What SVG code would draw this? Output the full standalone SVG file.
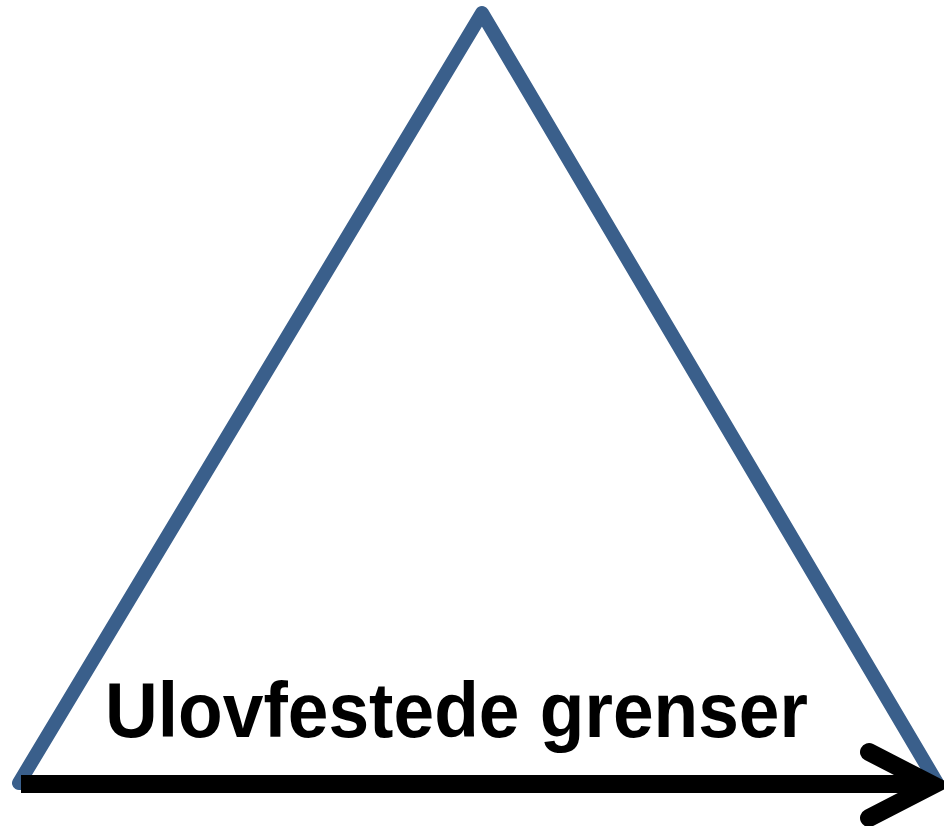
<svg xmlns="http://www.w3.org/2000/svg" width="944" height="826" viewBox="0 0 944 826">
<style>
.tri{fill:none;stroke:#3A5F8B;stroke-width:14;stroke-linejoin:round;stroke-linecap:round}
.arr{fill:none;stroke:#000;stroke-width:18}
.lbl{font-family:"Liberation Sans",Arial,sans-serif;font-weight:bold;font-size:77px;fill:#000}
</style>
<rect width="944" height="826" fill="#fff"/>
<g id="triangle">
<polygon class="tri" points="482,13 19,783 937,783"/>
</g>
<g id="connectors">
<line class="arr" x1="21" y1="784" x2="930" y2="784"/>
<path class="arr" d="M869,752 L933,785 L869,818" style="stroke-linecap:round;stroke-linejoin:miter"/>
</g>
<g id="label">
<text class="lbl" x="105" y="737" textLength="703" lengthAdjust="spacingAndGlyphs">Ulovfestede grenser</text>
</g>
</svg>
